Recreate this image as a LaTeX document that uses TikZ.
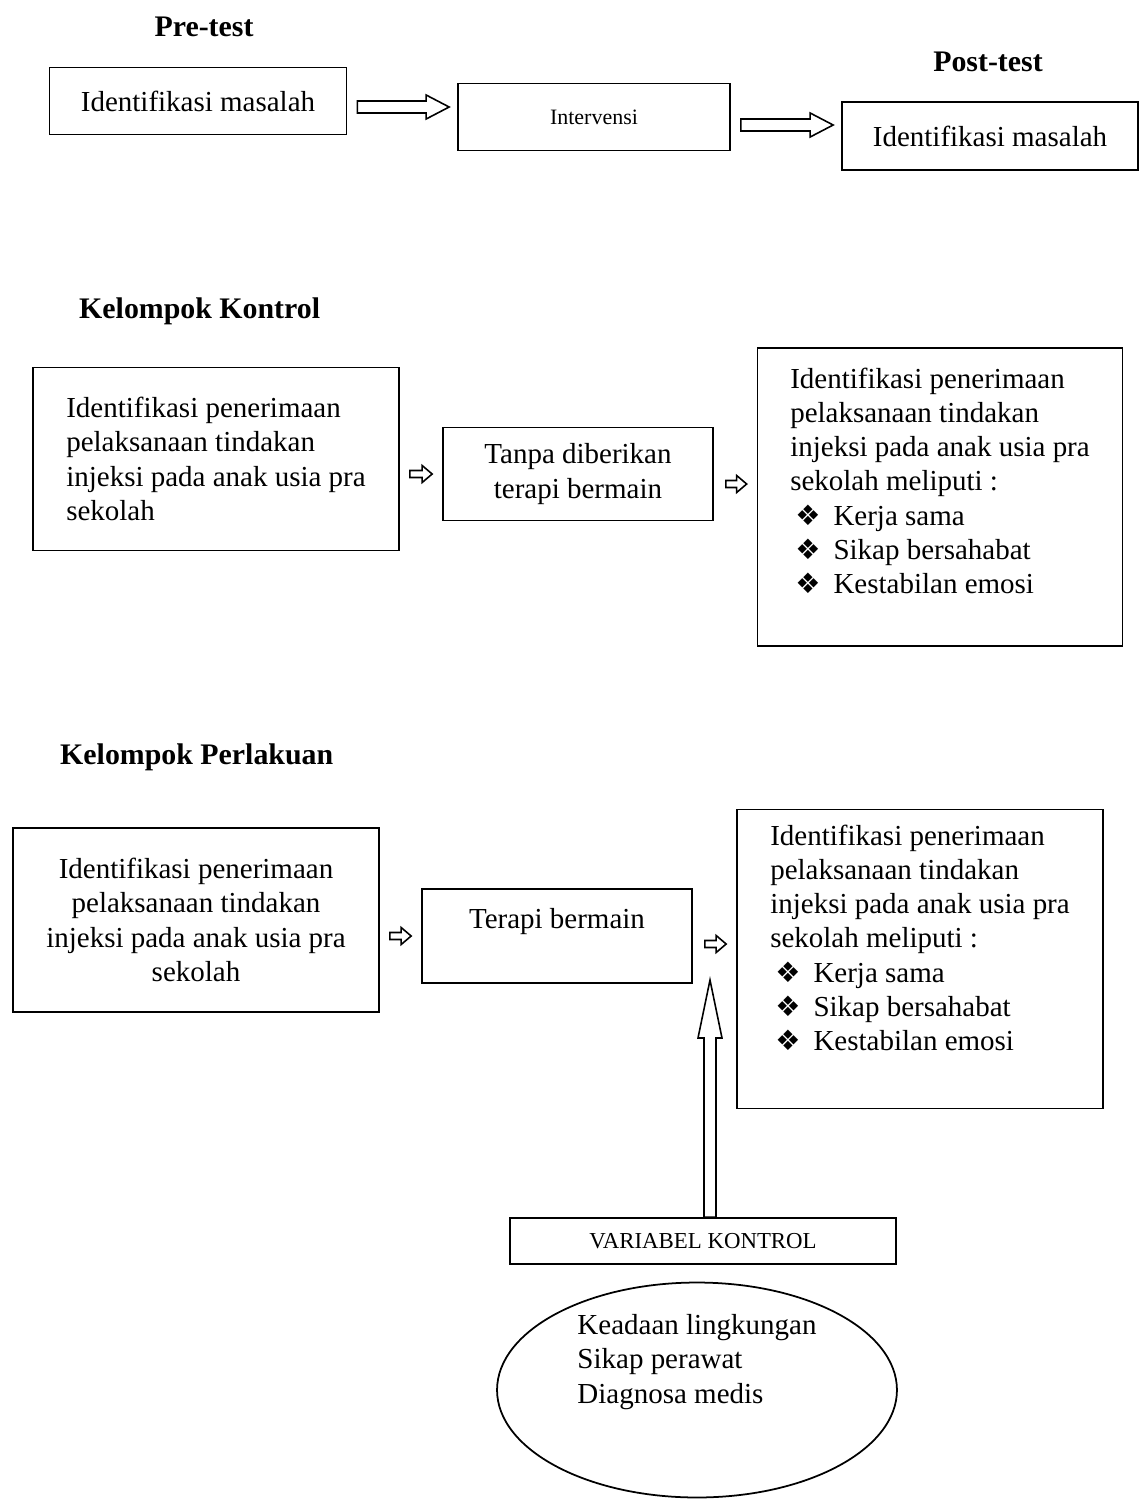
\documentclass[tikz,border=0pt]{standalone}
\usepackage{fontspec}
\setmainfont{Liberation Serif}
\newfontfamily\dingfont{DejaVu Sans}
\usepackage{tikz}
\usetikzlibrary{shapes.geometric,arrows.meta,positioning,calc}
\newcommand{\itm}{\hspace*{0.1cm}{\dingfont\fontsize{16}{18}\selectfont ❖}\hspace{0.45em}}

\begin{document}
\begin{tikzpicture}[
  x=0.02cm,y=-0.02cm,
  font=\fontsize{16.5}{19.5}\selectfont,
  box/.style={rectangle,draw,line width=1pt,align=center,inner sep=4pt},
  hd/.style={font=\fontsize{17}{20}\selectfont\bfseries},
  % hollow block arrow: shaft half width / head half width / end gap / end gap + head length
  blk/.style n args={4}{line width=0.9pt,to path={
    ($(\tikztostart)!#1!90:(\tikztotarget)$) --
    ($(\tikztotarget)!#4!(\tikztostart)!#1!90:(\tikztotarget)$) --
    ($(\tikztotarget)!#4!(\tikztostart)!#2!90:(\tikztotarget)$) --
    ($(\tikztotarget)!#3!(\tikztostart)$) --
    ($(\tikztotarget)!#4!(\tikztostart)!#2!-90:(\tikztotarget)$) --
    ($(\tikztotarget)!#4!(\tikztostart)!#1!-90:(\tikztotarget)$) --
    ($(\tikztostart)!#1!-90:(\tikztotarget)$) -- cycle}},
  fat/.style={blk={0.12cm}{0.24cm}{0.16cm}{0.62cm}},
  tiny/.style={blk={0.07cm}{0.17cm}{0.2cm}{0.4cm}}
]
\useasboundingbox (0,0) rectangle (1142,1502);

% pre-test / post-test
\node[hd] (pre) at (204,27) {Pre-test};
\node[hd] (post) at (988,62) {Post-test};
\node[box,minimum width=5.94cm,minimum height=1.34cm] (a1) at (198,101) {Identifikasi masalah};
\node[box,minimum width=5.44cm,minimum height=1.34cm,font=\fontsize{12.5}{15}\selectfont] (int) at (594,117) {Intervensi};
\node[box,minimum width=5.92cm,minimum height=1.36cm] (a3) at (990,136) {Identifikasi masalah};
\draw[fat] ($(a1.east)+(10,6)$) to ($(a1.east -| int.west)+(0,6)$);
\draw[fat] ($(int.east)+(10,8)$) to ($(int.east -| a3.west)+(0,8)$);

% kelompok kontrol
\node[hd,anchor=west] (kk) at (73,311) {Kelompok Kontrol};
\node[box,align=left,minimum width=7.32cm,minimum height=3.66cm] (b1) at (216,459)
  {Identifikasi penerimaan\\pelaksanaan tindakan\\injeksi pada anak usia pra\\sekolah};
\node[box,minimum width=5.4cm,minimum height=1.86cm] (b2) at (578,474) {Tanpa diberikan\\terapi bermain};
\node[box,minimum width=7.3cm,minimum height=5.96cm] (b3) at (940,497)
  {\raisebox{0.26cm}[\height][\depth]{\begin{tabular}{@{}l@{}}Identifikasi penerimaan\\pelaksanaan tindakan\\injeksi pada anak usia pra\\sekolah meliputi :\\
   \itm Kerja sama\\\itm Sikap bersahabat\\\itm Kestabilan emosi\end{tabular}}};
\draw[tiny] ($(b1.east |- b2)+(10,0)$) to (b2.west);
\draw[tiny] ($(b2.east)+(12,10)$) to ($(b2.east -| b3.west)+(0,10)$);

% kelompok perlakuan
\node[hd,anchor=west] (kp) at (54,757) {Kelompok Perlakuan};
\node[box,minimum width=7.32cm,minimum height=3.68cm] (c1) at (196,920)
  {Identifikasi penerimaan\\pelaksanaan tindakan\\injeksi pada anak usia pra\\sekolah};
\node[box,minimum width=5.4cm,minimum height=1.88cm] (c2) at (557,936)
  {\raisebox{0.28cm}[\height][\depth]{Terapi bermain}};
\node[box,minimum width=7.32cm,minimum height=5.98cm] (c3) at (920,959)
  {\raisebox{0.36cm}[\height][\depth]{\begin{tabular}{@{}l@{}}Identifikasi penerimaan\\pelaksanaan tindakan\\injeksi pada anak usia pra\\sekolah meliputi :\\
   \itm Kerja sama\\\itm Sikap bersahabat\\\itm Kestabilan emosi\end{tabular}}};
\draw[tiny] ($(c1.east |- c2)+(10,0)$) to (c2.west);
\draw[tiny] ($(c2.east)+(12,8)$) to ($(c2.east -| c3.west)+(0,8)$);

% variabel kontrol
\node[box,minimum width=7.72cm,minimum height=0.92cm,font=\fontsize{13}{15}\selectfont] (vk) at (703,1241) {VARIABEL KONTROL};
\node[ellipse,draw,line width=1pt,minimum width=8cm,minimum height=4.3cm] (ell) at (697,1390)
  {\raisebox{0.56cm}[\height][\depth]{\begin{tabular}{@{}l@{}}Keadaan lingkungan\\Sikap perawat\\Diagnosa medis\end{tabular}}};
\coordinate (vtip) at (710,980);
\draw[blk={0.12cm}{0.24cm}{0cm}{1.16cm}] (vtip |- vk.north) to (vtip);
\end{tikzpicture}
\end{document}
